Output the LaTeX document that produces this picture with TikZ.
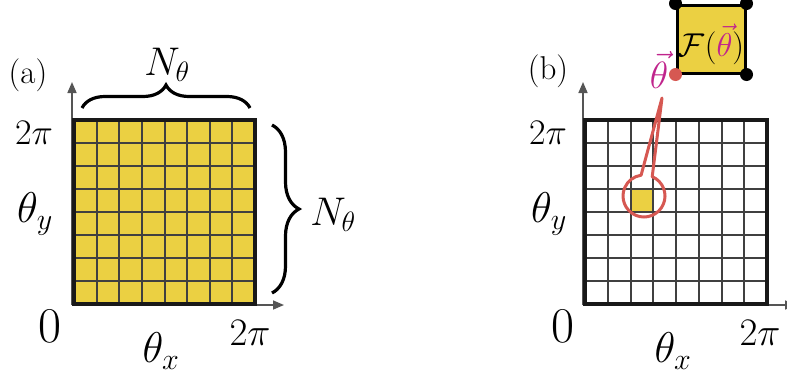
\RequirePackage{fix-cm}
\documentclass[tikz,border=0pt]{standalone}
\usetikzlibrary{arrows.meta,decorations.pathreplacing}
\definecolor{gy}{RGB}{235,208,66}
\definecolor{lgray}{RGB}{64,64,64}
\definecolor{axgray}{RGB}{85,85,85}
\definecolor{mag}{RGB}{192,36,140}
\definecolor{redc}{RGB}{214,88,82}
\begin{document}
\begin{tikzpicture}[x=1pt,y=-1pt,
  axis/.style={draw=axgray,line width=1.6pt,-{Triangle[length=11pt,width=9pt]}},
  innerline/.style={draw=lgray,line width=2pt},
  border/.style={draw=black!90,line width=3.5pt},
  brc/.style={decorate,decoration={brace,amplitude=#1,aspect=0.5},line width=3.2pt},
  lbl/.style={inner sep=0pt,outer sep=0pt},
  fs/.style={font=\fontsize{#1}{#1}\selectfont},
]
\useasboundingbox (0,0) rectangle (787,381);

% ---------- panel (a) ----------
\fill[gy] (74,120) rectangle (255,304);
\foreach \i in {1,...,7}{
  \draw[innerline] ({74+\i*181/8},120) -- ({74+\i*181/8},304);
  \draw[innerline] (74,{120+\i*23}) -- (255,{120+\i*23});
}
\coordinate (oa) at (72,305);
\coordinate (ya) at (72,82);
\coordinate (xa) at (284,305);
\draw[axis] (oa) -- (ya);
\draw[axis] (oa) -- (xa);
\draw[border] (74,120) rectangle (255,304);

\coordinate (bt1) at (82,108);
\coordinate (bt2) at (250,108);
\draw[brc=23pt] (bt1) -- (bt2);
\coordinate (br1) at (272,125);
\coordinate (br2) at (272,293);
\draw[brc=27pt] (br1) -- (br2);

\node[lbl,fs=33] (la) at (28,75) {(a)};
\node[lbl,fs=40] (nt) at (167,65) {$N_\theta$};
\node[lbl,fs=40] (nr) at (333,215) {$N_\theta$};
\node[lbl,fs=36] (tpa) at (34,133) {$2\pi$};
\node[lbl,fs=43] (tya) at (35,214) {$\theta_y$};
\node[lbl,fs=50] (za) at (50,326) {$0$};
\node[lbl,fs=43] (txa) at (161,351) {$\theta_x$};
\node[lbl,fs=39] (bpa) at (250,333) {$2\pi$};

% ---------- panel (b) ----------
\fill[gy] ({585+2*182/8},{120+3*23}) rectangle ({585+3*182/8},{120+4*23});
\foreach \i in {1,...,7}{
  \draw[innerline] ({585+\i*182/8},120) -- ({585+\i*182/8},304);
  \draw[innerline] (585,{120+\i*23}) -- (767,{120+\i*23});
}
\coordinate (ob) at (583,305);
\coordinate (yb) at (583,82);
\coordinate (xb) at (796,305);
\draw[axis] (ob) -- (yb);
\draw[axis] (ob) -- (xb);
\draw[border] (585,120) rectangle (767,304);

\node[lbl,fs=33] (lb) at (548,71) {(b)};
\node[lbl,fs=36] (tpb) at (548,133) {$2\pi$};
\node[lbl,fs=43] (tyb) at (549,214) {$\theta_y$};
\node[lbl,fs=50] (zb) at (563,326) {$0$};
\node[lbl,fs=43] (txb) at (673,351) {$\theta_x$};
\node[lbl,fs=39] (bpb) at (760,333) {$2\pi$};

% callout
\coordinate (cc) at (644,196);
\coordinate (tip) at (662,98);
\draw[redc,line width=3pt,line join=round] (cc) ++(-67:21)
  arc[start angle=-67,end angle=262,radius=21] -- (tip) -- cycle;

% function box
\node[draw=black,fill=gy,line width=3pt,minimum width=68pt,minimum height=68pt,inner sep=0pt] (fsq) at (711,39) {};
\node[lbl,fs=33] (ft) at (711,44) {$\mathcal{F}(\textcolor{mag}{\vec{\theta}})$};
\fill[black] (fsq.north west) circle (6.5);
\fill[black] (fsq.north east) circle (6.5);
\fill[black] (fsq.south east) circle (6.5);
\fill[redc] (fsq.south west) circle (6.5);
\node[lbl,fs=38,text=mag] (th) at (659,70) {$\vec{\theta}$};
\end{tikzpicture}
\end{document}
